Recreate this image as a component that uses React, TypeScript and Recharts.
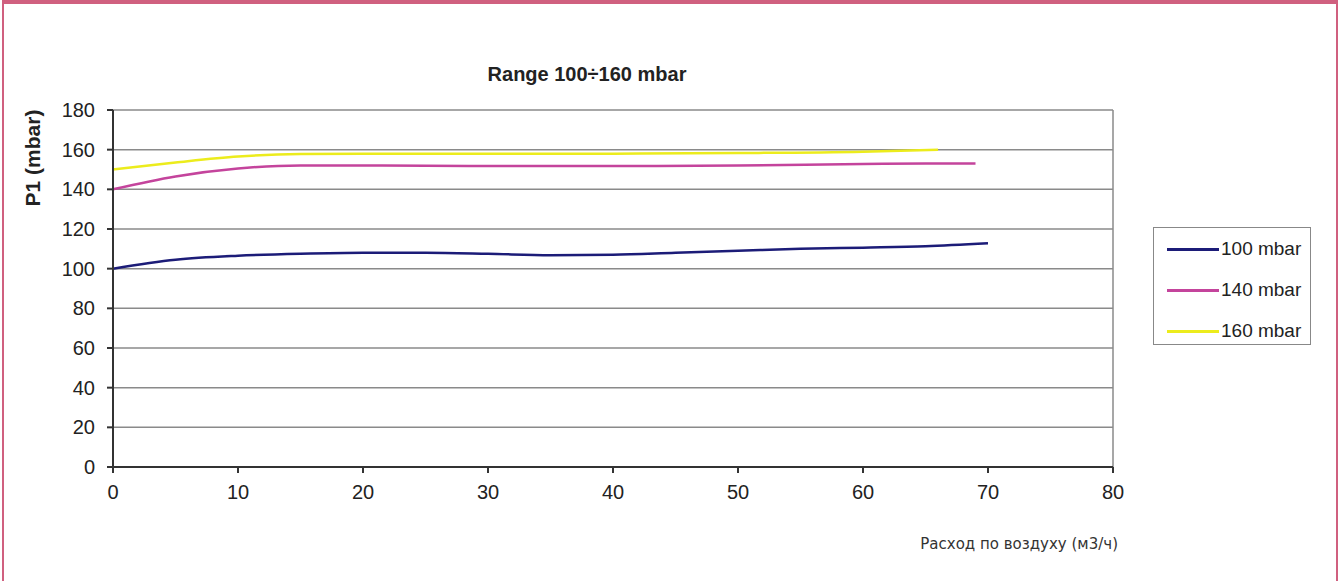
import React from 'react';
import {
  LineChart,
  Line,
  XAxis,
  YAxis,
  CartesianGrid,
  ReferenceLine,
  Legend,
} from 'recharts';

// air flow (m3/h) and P1 (mbar)
const flow100 = [0, 5, 10, 15, 20, 25, 30, 35, 40, 45, 50, 55, 60, 65, 70];
const p100 = [100, 104.5, 106.5, 107.5, 108, 108, 107.5, 106.8, 107, 108, 109, 110, 110.6, 111.3, 112.8];

const flow140 = [0, 5, 10, 15, 20, 30, 40, 50, 60, 65, 69];
const p140 = [140, 146.5, 150.5, 152, 152, 151.8, 151.8, 152, 152.8, 153, 153];

const flow160 = [0, 5, 10, 15, 20, 30, 40, 50, 60, 66];
const p160 = [150, 153.5, 156.5, 157.8, 158, 158, 158, 158.3, 159, 160];

const xTicks = [0, 10, 20, 30, 40, 50, 60, 70, 80];
const yTicks = [0, 20, 40, 60, 80, 100, 120, 140, 160, 180];

const seriesNames = ['100 mbar', '140 mbar', '160 mbar'];
const seriesColors = ['#1c1c78', '#c4449c', '#ecec1c'];

const toPoints = (xs: number[], ys: number[]) =>
  xs.map((x, i) => ({ x, y: ys[i] }));

const series = [
  toPoints(flow100, p100),
  toPoints(flow140, p140),
  toPoints(flow160, p160),
];

const font = 'Arial, "Liberation Sans", sans-serif';

const LegendBox = () => (
  <div
    style={{
      position: 'absolute',
      left: 1153,
      top: 227,
      width: 158,
      height: 118,
      border: '1px solid #888',
      background: '#fff',
      boxSizing: 'border-box',
      fontFamily: font,
      fontSize: 19,
      color: '#222',
    }}
  >
    {seriesNames.map((name, i) => (
      <div
        key={name}
        style={{
          position: 'absolute',
          left: 13,
          top: 9 + i * 41,
          display: 'flex',
          alignItems: 'center',
          height: 24,
        }}
      >
        <div style={{ width: 52, height: 3, background: seriesColors[i] }} />
        <span style={{ marginLeft: 2 }}>{name}</span>
      </div>
    ))}
  </div>
);

export default function App() {
  return (
    <div
      style={{
        position: 'absolute',
        left: 0,
        top: 0,
        width: 1341,
        height: 581,
        background: '#fff',
        overflow: 'hidden',
      }}
    >
      <div
        style={{
          position: 'absolute',
          left: 2,
          top: 0,
          width: 1336,
          height: 600,
          borderTop: '4px solid #d0607f',
          borderLeft: '2px solid #d0607f',
          borderRight: '2px solid #d0607f',
          boxSizing: 'border-box',
        }}
      />
      <LineChart
        width={1341}
        height={581}
        margin={{ top: 110, right: 228, bottom: 84, left: 63 }}
      >
        <CartesianGrid vertical={false} stroke="#8a8a8a" strokeWidth={1.5} />
        <XAxis
          type="number"
          dataKey="x"
          domain={[0, 80]}
          ticks={xTicks}
          height={30}
          tickSize={6}
          tickMargin={12}
          stroke="#333"
          strokeWidth={2}
          tick={{ fill: '#222', fontSize: 20, fontFamily: font }}
        />
        <YAxis
          type="number"
          domain={[0, 180]}
          ticks={yTicks}
          width={50}
          tickSize={6}
          tickMargin={12}
          stroke="#333"
          strokeWidth={2}
          tick={{ fill: '#222', fontSize: 20, fontFamily: font }}
        />
        <ReferenceLine x={80} stroke="#8a8a8a" strokeWidth={1.5} />
        {series.map((pts, i) => (
          <Line
            key={seriesNames[i]}
            data={pts}
            dataKey="y"
            name={seriesNames[i]}
            type="monotone"
            stroke={seriesColors[i]}
            strokeWidth={2.5}
            dot={false}
            isAnimationActive={false}
          />
        ))}
        <Legend content={() => null} />
      </LineChart>
      <div
        style={{
          position: 'absolute',
          left: 437,
          top: 63,
          width: 300,
          textAlign: 'center',
          fontFamily: font,
          fontWeight: 'bold',
          fontSize: 20,
          color: '#222',
          whiteSpace: 'nowrap',
        }}
      >
        Range 100÷160 mbar
      </div>
      <div
        style={{
          position: 'absolute',
          left: 33,
          top: 158,
          transform: 'translate(-50%, -50%) rotate(-90deg)',
          fontFamily: font,
          fontWeight: 'bold',
          fontSize: 21,
          color: '#222',
          whiteSpace: 'nowrap',
        }}
      >
        P1 (mbar)
      </div>
      <div
        style={{
          position: 'absolute',
          right: 1341 - 1118,
          top: 535,
          fontFamily: '"DejaVu Sans", Verdana, sans-serif',
          fontSize: 15,
          color: '#333',
          whiteSpace: 'nowrap',
        }}
      >
        Расход по воздуху (м3/ч)
      </div>
      <LegendBox />
    </div>
  );
}
